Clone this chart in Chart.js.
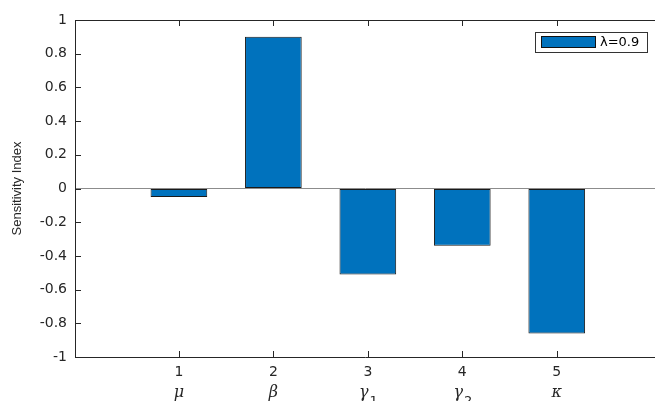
<!DOCTYPE html>
<html>
<head>
<meta charset="utf-8">
<script src="https://cdn.jsdelivr.net/npm/chart.js@4.4.0/dist/chart.umd.min.js"></script>
<style>
  html, body { margin: 0; padding: 0; background: #fff; }
  #wrap { width: 655px; height: 401px; position: relative; }
</style>
</head>
<body>
<div id="wrap"><canvas id="chart"></canvas></div>
<script>
// valores
const posicoes = [1, 2, 3, 4, 5];
const simbolos = ['μ', 'β', 'γ', 'γ', 'κ'];
const indices = ['', '', '1', '2', ''];
const sensibilidade = [-0.05, 0.9, -0.51, -0.34, -0.86];
const ticksY = [-1, -0.8, -0.6, -0.4, -0.2, 0, 0.2, 0.4, 0.6, 0.8, 1];

const azulMatlab = '#0072BD';
const eixoCor = '#262626';
const fonteTick = { family: 'DejaVu Sans', size: 14 };

// ticks para dentro, borda de cima, simbolos gregos e legenda
const extras = {
    id: 'extras',
    afterDraw(chart) {
        const { ctx, chartArea: a, scales: { x, y } } = chart;
        ctx.save();
        ctx.strokeStyle = eixoCor;
        ctx.lineWidth = 1;
        ctx.beginPath();
        ctx.moveTo(a.left, a.top + 0.5);
        ctx.lineTo(a.right, a.top + 0.5);
        ticksY.forEach(v => {
            const py = Math.round(y.getPixelForValue(v)) + 0.5;
            ctx.moveTo(a.left, py);
            ctx.lineTo(a.left + 6, py);
        });
        posicoes.forEach(v => {
            const px = Math.round(x.getPixelForValue(v)) + 0.5;
            ctx.moveTo(px, a.bottom);
            ctx.lineTo(px, a.bottom - 6);
            ctx.moveTo(px, a.top);
            ctx.lineTo(px, a.top + 6);
        });
        ctx.stroke();

        ctx.fillStyle = eixoCor;
        ctx.textBaseline = 'alphabetic';
        posicoes.forEach((v, i) => {
            const px = x.getPixelForValue(v);
            ctx.font = 'italic 16px "DejaVu Serif"';
            const w = ctx.measureText(simbolos[i]).width;
            const sub = indices[i];
            ctx.font = '13px "DejaVu Sans"';
            const ws = sub ? ctx.measureText(sub).width : 0;
            const x0 = px - (w + ws) / 2;
            ctx.font = 'italic 16px "DejaVu Serif"';
            ctx.textAlign = 'left';
            ctx.fillText(simbolos[i], x0, 397);
            if (sub) {
                ctx.font = '13px "DejaVu Sans"';
                ctx.fillText(sub, x0 + w + 1, 405);
            }
        });

        // legenda
        const ds = chart.data.datasets[0];
        ctx.fillStyle = '#fff';
        ctx.fillRect(535, 32, 112, 20);
        ctx.strokeStyle = '#333';
        ctx.strokeRect(535.5, 32.5, 112, 20);
        ctx.fillStyle = ds.backgroundColor;
        ctx.fillRect(541.5, 36.5, 54, 11);
        ctx.strokeStyle = '#111';
        ctx.strokeRect(541.5, 36.5, 54, 11);
        ctx.fillStyle = '#000';
        ctx.font = '13px "DejaVu Sans"';
        ctx.textAlign = 'left';
        ctx.textBaseline = 'middle';
        ctx.fillText(ds.label, 600, 43);
        ctx.restore();
    }
};

new Chart(document.getElementById('chart'), {
    type: 'bar',
    data: {
        datasets: [{
            label: 'λ=0.9',
            data: posicoes.map((p, i) => ({ x: p, y: sensibilidade[i] })),
            backgroundColor: azulMatlab,
            borderColor: '#1a1a1a',
            borderWidth: 1,
            borderSkipped: false,
            categoryPercentage: 1,
            barPercentage: 0.6
        }]
    },
    options: {
        responsive: true,
        maintainAspectRatio: false,
        animation: false,
        layout: { padding: { top: 20, right: 0, left: 0, bottom: 0 } },
        plugins: { legend: { display: false }, tooltip: { enabled: false } },
        scales: {
            x: {
                type: 'linear',
                offset: false,
                min: -0.1,
                max: 6.04,
                afterBuildTicks: s => { s.ticks = posicoes.map(v => ({ value: v })); },
                afterFit: s => { s.height = 44; },
                grid: { display: true, offset: false, color: 'rgba(0,0,0,0)', drawTicks: false },
                border: { display: true, color: eixoCor, width: 1 },
                ticks: { color: eixoCor, font: fonteTick, padding: 7, maxRotation: 0, callback: v => String(v) }
            },
            y: {
                min: -1,
                max: 1,
                afterBuildTicks: s => { s.ticks = ticksY.map(v => ({ value: v })); },
                afterFit: s => { s.width = 75; },
                grid: {
                    drawTicks: false,
                    color: c => (c.tick && c.tick.value === 0 ? '#8c8c8c' : 'rgba(0,0,0,0)')
                },
                border: { display: true, color: eixoCor, width: 1 },
                ticks: { color: eixoCor, font: fonteTick, padding: 8, callback: v => String(+v.toFixed(1)) },
                title: {
                    display: true,
                    text: 'Sensitivity Index',
                    color: eixoCor,
                    font: { family: 'Liberation Sans', size: 13 },
                    padding: { top: 10, bottom: 0 }
                }
            }
        }
    },
    plugins: [extras]
});
</script>
</body>
</html>
